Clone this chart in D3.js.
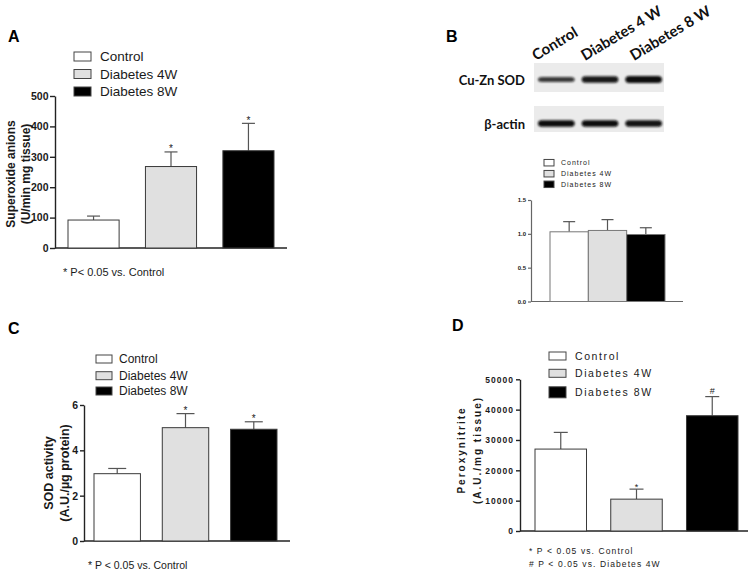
<!DOCTYPE html>
<html><head><meta charset="utf-8">
<script src="https://cdn.jsdelivr.net/npm/d3@7"></script>
<style>body{margin:0;background:#fff} svg{display:block}</style>
</head><body><svg id="c" width="750" height="569"></svg>
<script>
// ---------- data ----------
const groups = ["Control", "Diabetes 4W", "Diabetes 8W"];
const groupFills = ["#ffffff", "#e0e0e0", "#000000"];

// Panel A: superoxide anions
const superoxideMean = [92, 268, 320];
const superoxideSEM = [13, 48, 90];
const superoxideTicks = [0, 100, 200, 300, 400, 500];
const superoxideMarks = ["", "*", "*"];

// Panel B: western blot + densitometry
const blotLanes = ["Control", "Diabetes 4 W", "Diabetes 8 W"];
const blotRows = ["Cu-Zn SOD", "β-actin"];
const sodBandStrength = [0.8, 0.95, 1.0];
const actinBandStrength = [1.0, 1.0, 0.97];
const cuznMean = [1.03, 1.05, 0.99];
const cuznSEM = [0.15, 0.16, 0.10];
const cuznTicks = [0, 0.5, 1.0, 1.5];
const cuznMarks = ["", "", ""];

// Panel C: SOD activity
const sodActMean = [2.97, 5.0, 4.93];
const sodActSEM = [0.23, 0.62, 0.33];
const sodActTicks = [0, 2, 4, 6];
const sodActMarks = ["", "*", "*"];

// Panel D: peroxynitrite
const peroxMean = [27000, 10500, 38000];
const peroxSEM = [5500, 3300, 6300];
const peroxTicks = [0, 10000, 20000, 30000, 40000, 50000];
const peroxMarks = ["", "*", "#"];

// ---------- drawing ----------
const svg = d3.select("#c");
const FONT = "'Liberation Sans', Arial, Helvetica, sans-serif";
const INK = "#1a1a1a";

svg.append("defs").append("filter").attr("id", "blur")
  .attr("x", "-20%").attr("y", "-80%").attr("width", "140%").attr("height", "260%")
  .append("feGaussianBlur").attr("stdDeviation", 1.2);

function barPanel(c) {
  const g = svg.append("g");
  const y = d3.scaleLinear().domain([0, c.max]).range(c.yPix);
  const x = d3.scaleBand().domain(groups).range(c.xRange)
    .paddingInner(c.pad).paddingOuter(0);

  // y axis
  const ax = g.append("g").attr("transform", `translate(${c.axisX},0)`)
    .call(d3.axisLeft(y).tickValues(c.ticks).tickSize(c.tickLen)
      .tickSizeOuter(0).tickFormat(c.fmt).tickPadding(c.tickPad || 2));
  ax.select(".domain").attr("stroke", c.axisColor).attr("stroke-width", c.axisW);
  ax.selectAll(".tick line").attr("stroke", c.axisColor).attr("stroke-width", c.axisW);
  ax.selectAll(".tick text").attr("fill", INK).attr("font-family", FONT)
    .attr("font-weight", "bold").attr("font-size", c.tickFont)
    .attr("letter-spacing", c.tickSpacing || 0);

  // baseline
  g.append("line").attr("x1", c.axisX).attr("x2", c.baseEnd)
    .attr("y1", y(0)).attr("y2", y(0))
    .attr("stroke", c.axisColor).attr("stroke-width", c.axisW);

  // error bars (upward only)
  const eb = g.selectAll(".eb").data(groups).enter().append("g");
  eb.append("line")
    .attr("x1", d => x(d) + x.bandwidth() / 2).attr("x2", d => x(d) + x.bandwidth() / 2)
    .attr("y1", (d, i) => y(c.mean[i])).attr("y2", (d, i) => y(c.mean[i] + c.sem[i]))
    .attr("stroke", "#555").attr("stroke-width", 1.2);
  eb.append("line")
    .attr("x1", d => x(d) + x.bandwidth() / 2 - c.capW / 2)
    .attr("x2", d => x(d) + x.bandwidth() / 2 + c.capW / 2)
    .attr("y1", (d, i) => y(c.mean[i] + c.sem[i])).attr("y2", (d, i) => y(c.mean[i] + c.sem[i]))
    .attr("stroke", "#555").attr("stroke-width", 1.2);

  // bars
  g.selectAll(".bar").data(groups).enter().append("rect")
    .attr("x", d => x(d)).attr("width", x.bandwidth())
    .attr("y", (d, i) => y(c.mean[i])).attr("height", (d, i) => y(0) - y(c.mean[i]))
    .attr("fill", (d, i) => groupFills[i]).attr("stroke", c.barStroke || "#3a3a3a")
    .attr("stroke-width", 1);

  // significance marks
  g.selectAll(".mk").data(groups).enter().append("text")
    .attr("x", d => x(d) + x.bandwidth() / 2)
    .attr("y", (d, i) => y(c.mean[i] + c.sem[i]) + (c.marks[i] === "#" ? -2.5 : 0.5))
    .attr("text-anchor", "middle").attr("font-family", FONT)
    .attr("font-size", c.markFont).attr("fill", INK)
    .text((d, i) => c.marks[i]);

  // legend
  const L = c.legend;
  const lg = g.selectAll(".lg").data(groups).enter().append("g");
  lg.append("rect").attr("x", L.x).attr("width", L.w)
    .attr("y", (d, i) => L.cy[i] - L.h[i] / 2).attr("height", (d, i) => L.h[i])
    .attr("fill", (d, i) => groupFills[i]).attr("stroke", "#444").attr("stroke-width", 1);
  lg.append("text").attr("x", L.tx).attr("y", (d, i) => L.cy[i] + L.font * 0.36)
    .attr("font-family", FONT).attr("font-size", L.font).attr("fill", INK)
    .attr("letter-spacing", L.spacing || 0)
    .text(d => d);

  // y label
  if (c.ylab) {
    c.ylab.lines.forEach((t, i) => {
      g.append("text")
        .attr("transform", `translate(${c.ylab.xs[i]},${c.ylab.cy}) rotate(-90)`)
        .attr("text-anchor", "middle").attr("dy", "0.32em")
        .attr("font-family", FONT).attr("font-weight", "bold")
        .attr("font-size", c.ylab.font).attr("letter-spacing", c.ylab.spacing || 0)
        .attr("fill", INK).text(t);
    });
  }
  // footnotes
  (c.notes || []).forEach(n => {
    g.append("text").attr("x", n.x).attr("y", n.y).attr("font-family", FONT)
      .attr("font-size", n.font).attr("letter-spacing", n.spacing || 0)
      .attr("fill", INK).text(n.t);
  });
  // panel letter
  if (c.letter) {
    g.append("text").attr("x", c.letter.x).attr("y", c.letter.y)
      .attr("font-family", FONT).attr("font-weight", "bold").attr("font-size", 16)
      .attr("fill", "#000").text(c.letter.t);
  }
}

// Panel A
barPanel({
  mean: superoxideMean, sem: superoxideSEM, marks: superoxideMarks, ticks: superoxideTicks,
  max: 500, yPix: [248, 96], xRange: [68, 274], pad: 0.34, axisX: 55, baseEnd: 287,
  fmt: d3.format("d"), tickLen: 5, tickPad: 1.5, tickFont: 10.5, axisColor: "#222", axisW: 1.4,
  capW: 13, markFont: 10,
  legend: { x: 74, w: 17, h: [9, 9, 9], cy: [56.5, 74, 91.5], tx: 100, font: 13.5 },
  ylab: { lines: ["Superoxide anions", "(U/min mg tissue)"], xs: [11.5, 26], cy: 174, font: 12 },
  notes: [{ t: "* P< 0.05 vs. Control", x: 63, y: 276, font: 11 }],
  letter: { t: "A", x: 8, y: 42 }
});

// Panel B densitometry
barPanel({
  mean: cuznMean, sem: cuznSEM, marks: cuznMarks, ticks: cuznTicks,
  max: 1.5, yPix: [301.5, 200], xRange: [550, 665], pad: 0, axisX: 531, baseEnd: 683,
  fmt: d3.format(".1f"), tickLen: 3, tickFont: 6, axisColor: "#666", axisW: 1.2,
  capW: 12, markFont: 8, barStroke: "#777",
  legend: { x: 544, w: 10, h: [6.5, 6.5, 6.5], cy: [162.7, 173.7, 184.3], tx: 561, font: 7, spacing: 1 }
});

// Panel C
barPanel({
  mean: sodActMean, sem: sodActSEM, marks: sodActMarks, ticks: sodActTicks,
  max: 6, yPix: [541, 405], xRange: [94, 277], pad: 0.32, axisX: 84, baseEnd: 290,
  fmt: d3.format("d"), tickLen: 4, tickFont: 10.5, axisColor: "#222", axisW: 1.4,
  capW: 18, markFont: 10,
  legend: { x: 96, w: 16, h: [8, 8, 8], cy: [359, 375.7, 391], tx: 119, font: 12 },
  ylab: { lines: ["SOD activity", "(A.U./µg protein)"], xs: [49, 65], cy: 473, font: 12.5 },
  notes: [{ t: "* P < 0.05 vs. Control", x: 88, y: 568.5, font: 10.5 }],
  letter: { t: "C", x: 8, y: 334 }
});

// Panel D
barPanel({
  mean: peroxMean, sem: peroxSEM, marks: peroxMarks, ticks: peroxTicks,
  max: 50000, yPix: [531, 379.3], xRange: [535, 738], pad: 0.32, axisX: 520, baseEnd: 748,
  fmt: d3.format("d"), tickLen: 4, tickFont: 8.5, tickSpacing: 1, axisColor: "#222", axisW: 1.4,
  capW: 14, markFont: 9,
  legend: { x: 549, w: 17, h: [8, 8, 11], cy: [356, 373.3, 392.3], tx: 575, font: 10.5, spacing: 1.6 },
  ylab: { lines: ["Peroxynitrite", "(A.U./mg tissue)"], xs: [462, 478], cy: 450, font: 10, spacing: 2 },
  notes: [
    { t: "* P < 0.05 vs. Control", x: 529, y: 554, font: 8.5, spacing: 1.1 },
    { t: "# P < 0.05 vs. Diabetes 4W", x: 529, y: 567, font: 8.5, spacing: 1.1 }
  ],
  letter: { t: "D", x: 452, y: 331 }
});

// Panel B blot
(function () {
  const g = svg.append("g");
  const BF = "Lato, 'Open Sans', 'Liberation Sans', sans-serif";
  g.append("text").attr("x", 446).attr("y", 42).attr("font-family", FONT)
    .attr("font-weight", "bold").attr("font-size", 16).attr("fill", "#000").text("B");

  const lane = d3.scaleBand().domain(blotLanes).range([538, 662]).paddingInner(0.16);
  const labelPos = d3.scalePoint().domain(blotLanes).range([536, 634]);
  g.selectAll(".hdr").data(blotLanes).enter().append("text")
    .attr("transform", d => `translate(${labelPos(d)},61) rotate(-31)`)
    .attr("font-family", BF).attr("font-weight", "bold").attr("font-size", 15)
    .attr("fill", "#111").text(d => d);

  const strips = [
    { top: 63, h: 29, bandY: 79.5, bandH: [5, 6.5, 7], s: sodBandStrength },
    { top: 106, h: 26, bandY: 123.5, bandH: [6.5, 6.5, 6.5], s: actinBandStrength }
  ];
  strips.forEach((st, k) => {
    g.append("rect").attr("x", 534).attr("y", st.top).attr("width", 130).attr("height", st.h)
      .attr("fill", "#ebebeb");
    g.selectAll(".band" + k).data(blotLanes).enter().append("rect")
      .attr("x", d => lane(d)).attr("width", lane.bandwidth())
      .attr("y", (d, i) => st.bandY - st.bandH[i] / 2).attr("height", (d, i) => st.bandH[i])
      .attr("rx", 4).attr("fill", "#0a0a0a").attr("opacity", (d, i) => st.s[i])
      .attr("filter", "url(#blur)");
    g.append("text").attr("x", 525).attr("y", st.bandY + 5).attr("text-anchor", "end")
      .attr("font-family", BF).attr("font-weight", "bold").attr("font-size", 13)
      .attr("fill", "#111").text(blotRows[k]);
  });
})();
</script></body></html>
